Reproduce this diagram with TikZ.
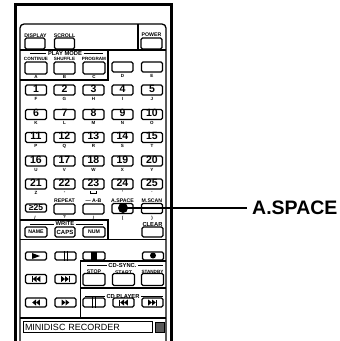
\documentclass[tikz,border=0pt]{standalone}
\usepackage{fontspec}
\setmainfont{Liberation Sans}
\usetikzlibrary{calc}
\tikzstyle{key} = [draw, line width=1.3pt, rounded corners=1.5pt, minimum width=21pt, minimum height=9pt, inner sep=0pt]
\tikzstyle{numkey} = [key, font=\fontsize{10.5}{10.5}\selectfont\bfseries, text depth=2.8pt]
\tikzstyle{tag} = [font=\fontsize{5.2}{5.2}\selectfont\bfseries, inner sep=0pt]
\tikzstyle{smalltag} = [font=\fontsize{4.6}{4.6}\selectfont\bfseries, inner sep=0pt]
\tikzstyle{head} = [font=\fontsize{5.8}{5.8}\selectfont\bfseries, inner sep=1.5pt]
\tikzstyle{letter} = [font=\fontsize{4.5}{4.5}\selectfont\bfseries, inner sep=0pt]
\tikzstyle{rule} = [line width=0.8pt]
\tikzstyle{frame} = [line width=1.3pt]
\newcommand{\tril}[1]{\fill (#1) -- ++(3.8,-3) -- ++(0,6) -- cycle;}
\newcommand{\trir}[1]{\fill (#1) -- ++(-3.8,-3) -- ++(0,6) -- cycle;}

\begin{document}
\begin{tikzpicture}[x=1pt, y=-1pt]
        \useasboundingbox (0,0) rectangle (340,341);
        % case and panel
        \draw[line width=3pt] (15.5,345) -- (15.5,4) -- (171.5,4) -- (171.5,345);
        \draw[frame, rounded corners=4pt] (20,345) -- (20,24) -- (166,24) -- (166,345);
        \draw[frame] (138,24) -- (138,50);
        \draw[frame] (20,50) -- (166,50);
        \draw[frame] (108,50) -- (108,80) -- (20,80);
        % top row
        \node (display) [key, minimum height=11pt, minimum width=20pt] at (35,43.5) {};
        \node [tag] at (35.5,36) {DISPLAY};
        \node (scroll) [key, minimum height=11pt, minimum width=20pt] at (64.5,43.5) {};
        \node [tag] at (64.5,36) {SCROLL};
        \node (power) [key, minimum height=11pt] at (151.5,43.5) {};
        \node [tag] at (151.5,35) {POWER};
        % play mode
        \node (playmode) [head] at (65,53) {PLAY MODE};
        \draw[rule] (30,53) -- (playmode);
        \draw[rule] (playmode) -- (103,53);
        \node (continue) [key, minimum height=12pt, minimum width=22pt] at (36,68) {};
        \node [smalltag] at (36,59) {CONTINUE};
        \node [letter] at (36,76.5) {A};
        \node (shuffle) [key, minimum height=12pt] at (64.5,68) {};
        \node [smalltag] at (64.5,59) {SHUFFLE};
        \node [letter] at (64.5,76.5) {B};
        \node (program) [key, minimum height=12pt, minimum width=22pt] at (94,68) {};
        \node [smalltag] at (94,59) {PROGRAM};
        \node [letter] at (94,76.5) {C};
        \node (keyd) [key, minimum height=10pt] at (122.5,67) {};
        \node [letter] at (122.5,76) {D};
        \node (keye) [key, minimum height=10pt] at (152,67) {};
        \node [letter] at (152,76) {E};
        % number keys
        \node (k1) [numkey] at (36,90) {1};
        \node (k2) [numkey] at (64.5,90) {2};
        \node (k3) [numkey] at (93.5,90) {3};
        \node (k4) [numkey] at (122.5,90) {4};
        \node (k5) [numkey] at (152,90) {5};
        \node [letter] at (36,98.5) {F};
        \node [letter] at (64.5,98.5) {G};
        \node [letter] at (93.5,98.5) {H};
        \node [letter] at (122.5,98.5) {I};
        \node [letter] at (152,98.5) {J};
        \node (k6) [numkey] at (36,114.5) {6};
        \node (k7) [numkey] at (64.5,114.5) {7};
        \node (k8) [numkey] at (93.5,114.5) {8};
        \node (k9) [numkey] at (122.5,114.5) {9};
        \node (k10) [numkey] at (152,114.5) {10};
        \node [letter] at (36,123) {K};
        \node [letter] at (64.5,123) {L};
        \node [letter] at (93.5,123) {M};
        \node [letter] at (122.5,123) {N};
        \node [letter] at (152,123) {O};
        \node (k11) [numkey] at (36,137.5) {11};
        \node (k12) [numkey] at (64.5,137.5) {12};
        \node (k13) [numkey] at (93.5,137.5) {13};
        \node (k14) [numkey] at (122.5,137.5) {14};
        \node (k15) [numkey] at (152,137.5) {15};
        \node [letter] at (36,146) {P};
        \node [letter] at (64.5,146) {Q};
        \node [letter] at (93.5,146) {R};
        \node [letter] at (122.5,146) {S};
        \node [letter] at (152,146) {T};
        \node (k16) [numkey] at (36,161) {16};
        \node (k17) [numkey] at (64.5,161) {17};
        \node (k18) [numkey] at (93.5,161) {18};
        \node (k19) [numkey] at (122.5,161) {19};
        \node (k20) [numkey] at (152,161) {20};
        \node [letter] at (36,169.5) {U};
        \node [letter] at (64.5,169.5) {V};
        \node [letter] at (93.5,169.5) {W};
        \node [letter] at (122.5,169.5) {X};
        \node [letter] at (152,169.5) {Y};
        \node (k21) [numkey] at (36,184) {21};
        \node (k22) [numkey] at (64.5,184) {22};
        \node (k23) [numkey] at (93.5,184) {23};
        \node (k24) [numkey] at (122.5,184) {24};
        \node (k25) [numkey] at (152,184) {25};
        \node [letter] at (36,192.5) {Z};
        \node [letter] at (64.5,192.5) {-};
        \draw[line width=0.6pt] (90.5,191) -- (90.5,193) -- (96.5,193) -- (96.5,191);
        \node [letter] at (122.5,192) {,};
        \node [letter] at (152,192) {.};
        % repeat row
        \node (over25) [key, minimum height=8pt, font=\fontsize{8.5}{8.5}\selectfont\bfseries] at (36,208) {≥25};
        \node [letter] at (35,218) {/};
        \node (repeat) [key, minimum height=10pt] at (64.5,209) {};
        \node [tag] at (64.5,201) {REPEAT};
        \node [letter] at (64.5,217) {?};
        \node (ab) [key, minimum height=10pt] at (93.5,209) {};
        \node [tag] at (93.5,201) {— A-B};
        \node [letter] at (93.5,218) {/};
        \node (aspace) [key, minimum height=10pt] at (122.5,208.5) {};
        \node [tag] at (122.5,201) {A.SPACE};
        \node [letter] at (122.5,218) {(};
        \node (mscan) [key, minimum height=10pt] at (152,208.5) {};
        \node [tag] at (152,201) {M.SCAN};
        \node [letter] at (152,218) {)};
        % write
        \draw[frame] (20,220) -- (108,220) -- (108,239.5);
        \draw[frame] (20,239.5) -- (166,239.5);
        \node (write) [head] at (65,224) {WRITE};
        \draw[rule] (30,224) -- (write);
        \draw[rule] (write) -- (103,224);
        \node (name) [key, minimum height=10pt, minimum width=22pt, font=\fontsize{5.2}{5.2}\selectfont\bfseries] at (36,232) {NAME};
        \node (caps) [key, minimum height=10pt, minimum width=20pt, font=\fontsize{6}{6}\selectfont\bfseries] at (65,232) {CAPS};
        \node (num) [key, minimum height=10pt, minimum width=22pt, font=\fontsize{5.2}{5.2}\selectfont\bfseries] at (94,232) {NUM};
        \node (clear) [key, minimum height=10pt] at (152.5,232) {};
        \node [head, inner sep=0pt] at (152.5,224.5) {CLEAR};
        % transport
        \node (play) [key, minimum height=8pt] at (36,256) {};
        \fill ($(play)+(4,0)$) -- ++(-8,-3) -- ++(0,6) -- cycle;
        \node (pause) [key, minimum height=8pt] at (65.5,256) {};
        \draw[line width=1pt] ($(pause.north)+(-1.5,0)$) -- ($(pause.south)+(-1.5,0)$);
        \draw[line width=1pt] ($(pause.north)+(1.5,0)$) -- ($(pause.south)+(1.5,0)$);
        \node (stop) [key, minimum height=8pt, minimum width=22pt] at (94,256) {};
        \fill ($(stop)+(-3,-4)$) rectangle ($(stop)+(3,4)$);
        \node (rec) [key, minimum height=8pt] at (153,256) {};
        \fill ($(rec)+(0,-0.5)$) circle (3pt);
        \node (prev) [key] at (36,279) {};
        \fill ($(prev)+(-4.5,-3)$) rectangle ($(prev)+(-3.3,3)$);
        \tril{$(prev)+(-3.3,0)$}
        \tril{$(prev)+(0.5,0)$}
        \node (next) [key] at (65.5,279) {};
        \fill ($(next)+(4.5,-3)$) rectangle ($(next)+(3.3,3)$);
        \trir{$(next)+(3.3,0)$}
        \trir{$(next)+(-0.5,0)$}
        \node (rew) [key] at (36,302.5) {};
        \tril{$(rew)+(-3.8,0)$}
        \tril{$(rew)+(0,0)$}
        \node (ff) [key] at (65.5,302.5) {};
        \trir{$(ff)+(3.8,0)$}
        \trir{$(ff)+(0,0)$}
        % cd-sync
        \draw[frame] (80.5,318) -- (80.5,261) -- (166,261);
        \draw[line width=2pt] (80.5,287.5) -- (166,287.5);
        \node (cdsync) [head] at (122.5,265.5) {CD-SYNC.};
        \draw[rule] (87,265.5) -- (cdsync);
        \draw[rule] (cdsync) -- (163,265.5);
        \node (syncstop) [key, minimum height=12pt, minimum width=22pt] at (94,279.5) {};
        \node [tag] at (94,271.5) {STOP};
        \node (syncstart) [key, minimum height=12pt, minimum width=22pt] at (123.5,279.5) {};
        \node [tag] at (123.5,272.5) {START};
        \node (standby) [key, minimum height=12pt, minimum width=22pt] at (152.5,279.5) {};
        \node [smalltag] at (152.5,271.5) {STANDBY};
        % cd player
        \node (cdplayer) [head] at (123,296.5) {CD PLAYER};
        \draw[rule] (85,296.5) -- (cdplayer);
        \draw[rule] (cdplayer) -- (163,296.5);
        \node (cdpause) [key, minimum width=22pt] at (94,302.5) {};
        \draw[line width=1pt] ($(cdpause.north)+(-1.5,0)$) -- ($(cdpause.south)+(-1.5,0)$);
        \draw[line width=1pt] ($(cdpause.north)+(1.5,0)$) -- ($(cdpause.south)+(1.5,0)$);
        \node (cdprev) [key] at (123.5,302.5) {};
        \fill ($(cdprev)+(-4.5,-3)$) rectangle ($(cdprev)+(-3.3,3)$);
        \tril{$(cdprev)+(-3.3,0)$}
        \tril{$(cdprev)+(0.5,0)$}
        \node (cdnext) [key] at (152.5,302.5) {};
        \fill ($(cdnext)+(4.5,-3)$) rectangle ($(cdnext)+(3.3,3)$);
        \trir{$(cdnext)+(3.3,0)$}
        \trir{$(cdnext)+(-0.5,0)$}
        % name strip
        \draw[frame] (20,318) -- (166,318);
        \node (strip) [draw, line width=0.9pt, inner sep=2pt, text width=125pt, align=left, minimum height=10.5pt, font=\fontsize{9}{9}\selectfont] at (87.5,327) {MINIDISC RECORDER};
        \node (lamp) [draw, fill=black!65, minimum size=9.5pt, inner sep=0pt] at (159.5,327) {};
        % callout
        \node (dot) [circle, fill, inner sep=0pt, minimum size=10pt] at (123,208) {};
        \node (callout) [anchor=west, inner sep=5pt, font=\fontsize{19.5}{19.5}\selectfont\bfseries] at (247,208) {A.SPACE};
        \draw[line width=2pt] (dot.center) -- (callout);
    \end{tikzpicture}
\end{document}
